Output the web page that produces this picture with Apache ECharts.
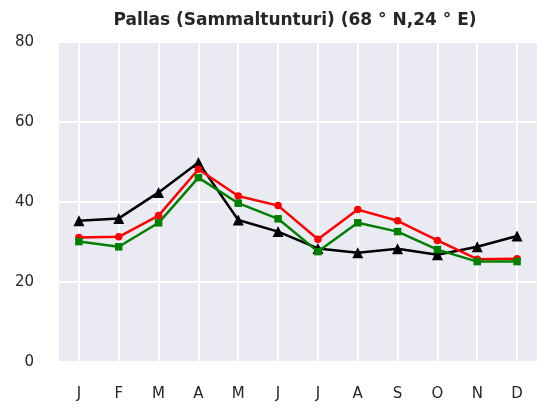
<!DOCTYPE html>
<html>
<head>
<meta charset="utf-8">
<script src="https://cdn.jsdelivr.net/npm/echarts@6/dist/echarts.min.js"></script>
<style>html,body{margin:0;padding:0;background:#fff}#c{width:537px;height:407px}</style>
</head>
<body>
<div id="c"></div>
<script>
const titleText = 'Pallas (Sammaltunturi) (68 ° N,24 ° E)';
const months = ['J','F','M','A','M','J','J','A','S','O','N','D'];
const yTicks = [0, 20, 40, 60, 80];
const blackValues = [35.3, 35.9, 42.4, 49.9, 35.5, 32.6, 28.4, 27.3, 28.3, 26.8, 28.8, 31.5];
const redValues   = [31.1, 31.3, 36.6, 48.2, 41.5, 39.1, 30.7, 38.1, 35.3, 30.4, 25.7, 25.8];
const greenValues = [30.1, 28.8, 34.8, 46.1, 39.7, 35.8, 27.6, 34.8, 32.6, 28.1, 25.1, 25.1];

const chart = echarts.init(document.getElementById('c'), null, {renderer: 'canvas'});
const lab = {color: '#262626', fontSize: 15, fontFamily: 'DejaVu Sans'};
function mk(name, data, color, symbol, size) {
  return {
    name, type: 'line', data, symbol, symbolSize: size,
    lineStyle: {color, width: 2.5},
    itemStyle: {color},
    showSymbol: true, animation: false
  };
}
chart.setOption({
  animation: false,
  backgroundColor: '#ffffff',
  title: {
    text: titleText, left: 290, textAlign: 'center', top: 7,
    textStyle: {fontFamily: 'DejaVu Sans', fontWeight: 'bold', fontSize: 17, color: '#262626'}
  },
  grid: {left: 59, right: 0, top: 42, bottom: 45, show: true, backgroundColor: '#eaeaf2', borderWidth: 0},
  xAxis: {
    type: 'category', data: months.map((m, i) => String(i)), boundaryGap: true,
    axisLine: {show: false}, axisTick: {show: false},
    axisLabel: Object.assign({margin: 25, formatter: (v) => months[+v], interval: 0}, lab),
    splitLine: {show: true, alignWithLabel: true, lineStyle: {color: '#ffffff', width: 2}}
  },
  yAxis: {
    type: 'value', min: yTicks[0], max: yTicks[yTicks.length - 1], interval: 20,
    axisLine: {show: false}, axisTick: {show: false},
    axisLabel: Object.assign({margin: 25, padding: [5, 0, 0, 0]}, lab),
    splitLine: {show: true, lineStyle: {color: '#ffffff', width: 2}}
  },
  series: [
    mk('black', blackValues, '#000000', 'triangle', 11),
    mk('red', redValues, '#ff0000', 'circle', 7.5),
    mk('green', greenValues, '#008000', 'rect', 7.5)
  ]
});
</script>
</body>
</html>
